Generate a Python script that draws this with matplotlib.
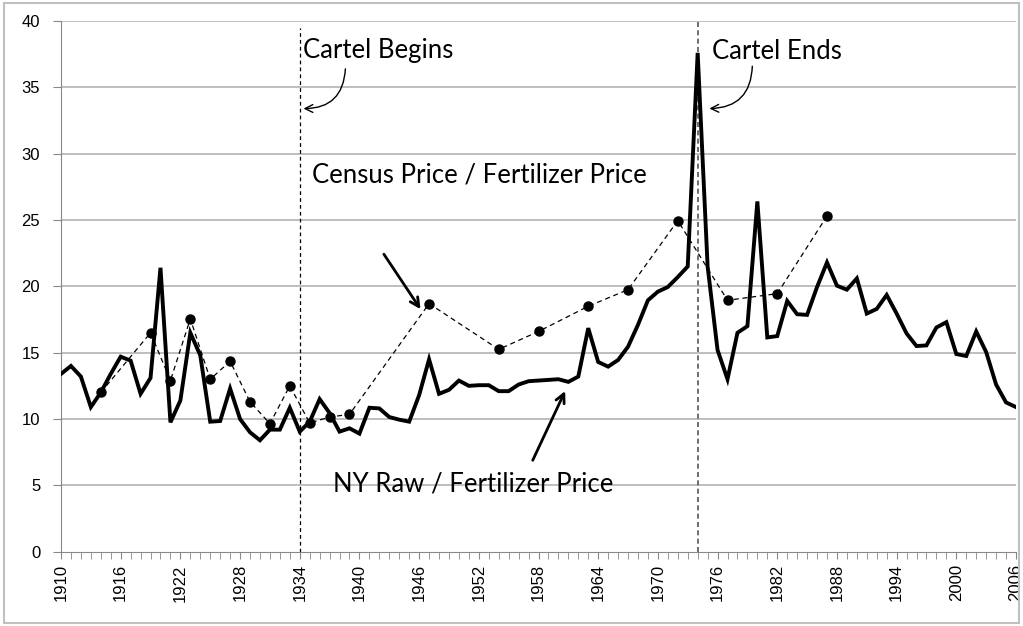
import numpy as np
import matplotlib
matplotlib.use('Agg')
import matplotlib.pyplot as plt
from matplotlib.patches import Rectangle

# NY raw sugar price / fertilizer price, yearly 1910-2006
years = np.arange(1910, 2007)
ny_ratio = [13.4, 14.0, 13.2, 10.9, 12.0, 13.4, 14.7, 14.4, 11.9, 13.1,
            21.4, 9.75, 11.4, 16.5, 14.8, 9.8, 9.85, 12.3, 10.0, 9.0,
            8.4, 9.2, 9.2, 10.85, 9.05, 9.8, 11.5, 10.45, 9.05, 9.3,
            8.9, 10.85, 10.8, 10.15, 9.95, 9.8, 11.8, 14.5, 11.9, 12.2,
            12.9, 12.5, 12.55, 12.55, 12.1, 12.1, 12.6, 12.85, 12.9, 12.95,
            13.0, 12.8, 13.2, 16.85, 14.3, 13.95, 14.45, 15.45, 17.1, 18.95,
            19.6, 19.95, 20.7, 21.5, 37.6, 21.5, 15.2, 13.0, 16.5, 17.0,
            26.4, 16.15, 16.25, 18.9, 17.9, 17.85, 19.95, 21.8, 20.05, 19.75,
            20.6, 17.95, 18.3, 19.35, 17.95, 16.45, 15.5, 15.55, 16.9, 17.3,
            14.9, 14.75, 16.6, 15.05, 12.6, 11.25, 10.9]

# Census price / fertilizer price (census years only)
census_years = [1914, 1919, 1921, 1923, 1925, 1927, 1929, 1931, 1933, 1935, 1937,
                1939, 1947, 1954, 1958, 1963, 1967, 1972, 1977, 1982, 1987]
census_ratio = [12.0, 16.5, 12.9, 17.55, 13.0, 14.35, 11.3, 9.65, 12.5, 9.7, 10.15,
                10.35, 18.7, 15.25, 16.6, 18.5, 19.75, 24.95, 18.95, 19.45, 25.3]

cartel_begin = 1934
cartel_end = 1974

label_font = 'Lato'
label_size = 18.5

fig = plt.figure(figsize=(10.23, 6.26), dpi=100)
ax = fig.add_axes([61 / 1023, 1 - 551.7 / 626, 955 / 1023, 530.7 / 626])

# horizontal gridlines
for v in range(5, 41, 5):
    ax.axhline(v, color='#b3b3b3', lw=1.2, zorder=0)

ax.plot(years, ny_ratio, color='black', lw=2.8, solid_joinstyle='miter', zorder=3)
ax.plot(census_years, census_ratio, color='black', lw=0.9, ls=(0, (4, 3)),
        marker='o', ms=6.5, zorder=4)

# cartel period markers
ax.plot([cartel_begin, cartel_begin], [0, 39.5], color='black', lw=0.9, ls=(0, (3, 2.5)), zorder=2)
ax.plot([cartel_end, cartel_end], [0, 40], color='#555555', lw=1.2, ls=(0, (3, 2)), zorder=2)

ax.set_xlim(1910, 2006)
ax.set_ylim(0, 40)
ax.set_yticks(range(0, 41, 5))
ax.set_xticks(range(1910, 2007, 6))
ax.set_xticks(range(1910, 2007), minor=True)
ax.set_xticklabels([str(y) for y in range(1910, 2007, 6)], rotation=90,
                   fontsize=12, family='Liberation Sans')
ax.set_yticklabels([str(v) for v in range(0, 41, 5)], fontsize=12, family='Liberation Sans')
ax.tick_params(axis='x', which='both', length=5, color='#888888', direction='out', pad=4)
ax.tick_params(axis='y', length=6, color='#888888', pad=9)

for s in ['top', 'right']:
    ax.spines[s].set_visible(False)
for s in ['left', 'bottom']:
    ax.spines[s].set_color('#888888')

# annotations
ax.text(1934.3, 37.8, 'Cartel Begins', fontsize=label_size, family=label_font,
        va='center', ha='left')
ax.annotate('', xy=(1934.1, 33.4), xytext=(1938.6, 36.6),
            arrowprops=dict(arrowstyle='->', lw=1.0, color='black',
                            connectionstyle='arc3,rad=-0.5', mutation_scale=14))
ax.text(1975.4, 37.7, 'Cartel Ends', fontsize=label_size, family=label_font,
        va='center', ha='left')
ax.annotate('', xy=(1974.9, 33.4), xytext=(1979.5, 36.8),
            arrowprops=dict(arrowstyle='->', lw=1.0, color='black',
                            connectionstyle='arc3,rad=-0.5', mutation_scale=14))
ax.text(1935.2, 28.4, 'Census Price / Fertilizer Price', fontsize=label_size,
        family=label_font, va='center', ha='left')
ax.annotate('', xy=(1946.3, 18.1), xytext=(1942.3, 22.6),
            arrowprops=dict(arrowstyle='->', lw=2.0, color='black', mutation_scale=16))
ax.text(1937.3, 5.1, 'NY Raw / Fertilizer Price', fontsize=label_size,
        family=label_font, va='center', ha='left')
ax.annotate('', xy=(1960.8, 12.3), xytext=(1957.3, 6.7),
            arrowprops=dict(arrowstyle='->', lw=2.0, color='black', mutation_scale=16))

# chart area border
fig.patches.append(Rectangle((0.004, 0.004), 0.992, 0.992, transform=fig.transFigure,
                             fill=False, edgecolor='#c0c0c0', lw=1.5))

fig.savefig('out.png', dpi=100)
